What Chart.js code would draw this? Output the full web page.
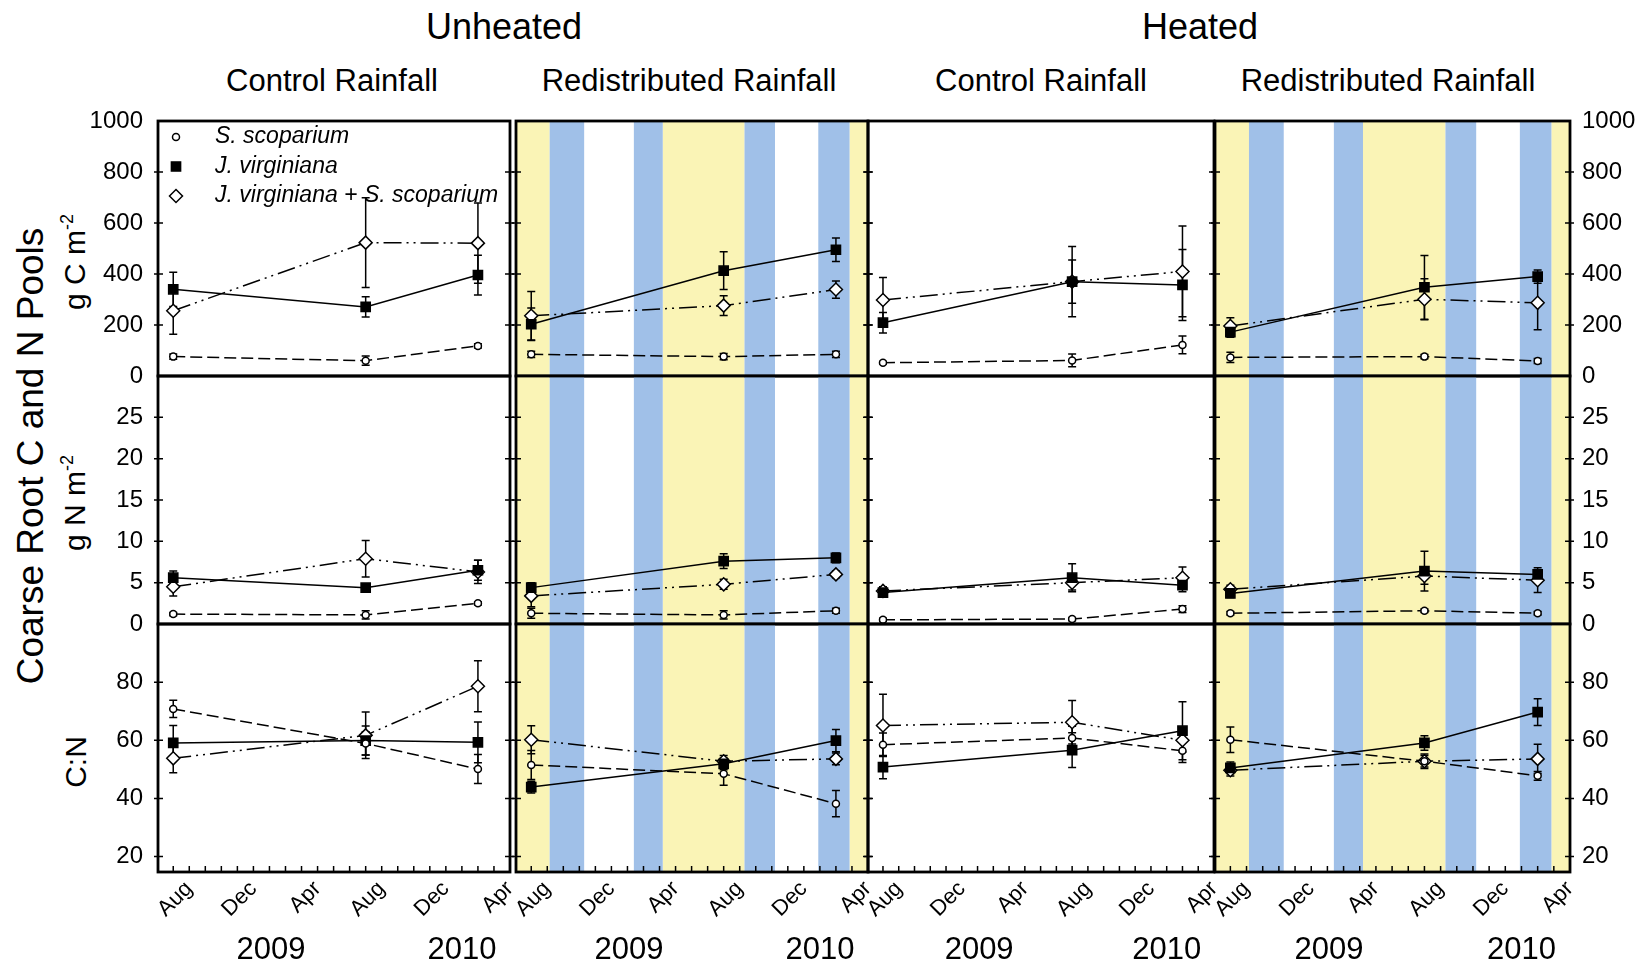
<!DOCTYPE html>
<html>
<head>
<meta charset="utf-8">
<script src="https://cdn.jsdelivr.net/npm/chart.js@4.4.1/dist/chart.umd.min.js"></script>
<style>
body { margin: 0; background: #fff; }
#wrap { position: relative; width: 1644px; height: 965px; font-family: 'Liberation Sans', Arial, sans-serif; color: #000; overflow: hidden; }
#wrap canvas { position: absolute; left: 0; top: 0; }
.lbl { position: absolute; white-space: nowrap; transform: translate(-50%, -50%); line-height: 1; }
.rot { transform: translate(-50%, -50%) rotate(-90deg); }
sup { font-size: 60%; vertical-align: 0.7em; }
</style>
</head>
<body>
<div id="wrap">
  <div class="lbl" style="left:504px;top:27px;font-size:36px">Unheated</div>
  <div class="lbl" style="left:1200px;top:27px;font-size:36px">Heated</div>
  <div class="lbl" style="left:332px;top:80px;font-size:31px">Control Rainfall</div>
  <div class="lbl" style="left:689px;top:80px;font-size:31px">Redistributed Rainfall</div>
  <div class="lbl" style="left:1041px;top:80px;font-size:31px">Control Rainfall</div>
  <div class="lbl" style="left:1388px;top:80px;font-size:31px">Redistributed Rainfall</div>
  <div class="lbl rot" style="left:30px;top:456px;font-size:37px">Coarse Root C and N Pools</div>
  <div class="lbl rot" style="left:74px;top:262px;font-size:30px">g C m<sup>-2</sup></div>
  <div class="lbl rot" style="left:74px;top:503px;font-size:30px">g N m<sup>-2</sup></div>
  <div class="lbl rot" style="left:76px;top:762px;font-size:30px">C:N</div>
</div>
<script>
// months counted from Aug 2008
const sampleMonths = [0, 12, 19];
const tickMonths = [0, 4, 8, 12, 16, 20];
const tickNames = ['Aug', 'Dec', 'Apr', 'Aug', 'Dec', 'Apr'];
const yearNames = ['2009', '2010'];
const yearMonths = [6.1, 18];
const summerBands = [[-0.95, 1.15], [8.2, 13.3], [19.85, 21]];
const rainBands = [[1.15, 3.3], [6.4, 8.2], [13.3, 15.2], [17.9, 19.85]];

const seriesNames = ['S. scoparium', 'J. virginiana', 'J. virginiana + S. scoparium'];

// one inner array per panel: unheated control, unheated redistributed, heated control, heated redistributed
const cScop = [[76, 60, 118], [85, 76, 85], [52, 61, 122], [73, 76, 59]];
const cScopErr = [[10, 18, 8], [12, 12, 12], [5, 25, 35], [20, 8, 10]];
const cVirg = [[340, 271, 396], [203, 413, 495], [209, 370, 357], [172, 348, 390]];
const cVirgErr = [[67, 40, 78], [64, 74, 46], [40, 85, 139], [20, 125, 26]];
const cMix = [[256, 523, 521], [236, 276, 339], [298, 370, 410], [196, 301, 287]];
const cMixErr = [[92, 176, 157], [95, 39, 34], [88, 138, 178], [32, 80, 106]];

const nScop = [[1.2, 1.1, 2.5], [1.3, 1.1, 1.6], [0.5, 0.6, 1.8], [1.3, 1.6, 1.3]];
const nScopErr = [[0.2, 0.5, 0.2], [0.6, 0.5, 0.3], [0.2, 0.2, 0.4], [0.2, 0.2, 0.2]];
const nVirg = [[5.6, 4.4, 6.5], [4.4, 7.6, 8.0], [3.8, 5.6, 4.7], [3.7, 6.4, 6.0]];
const nVirgErr = [[0.8, 0.2, 1.2], [0.6, 0.9, 0.6], [0.5, 1.7, 0.8], [0.5, 2.4, 0.4]];
const nMix = [[4.5, 7.9, 6.3], [3.4, 4.8, 6.0], [4.0, 5.0, 5.6], [4.2, 5.8, 5.3]];
const nMixErr = [[1.1, 2.2, 1.4], [1.3, 0.6, 0.4], [0.5, 0.9, 1.3], [0.5, 1.0, 1.5]];

const cnScop = [[70.8, 58.9, 50.1], [51.5, 48.5, 38.2], [58.5, 60.8, 56.4], [60.2, 52.8, 47.8]];
const cnScopErr = [[3, 4, 5], [5, 4, 4.5], [4, 4, 4], [4.4, 2, 1.5]];
const cnVirg = [[59.1, 59.9, 59.3], [43.9, 51.9, 59.9], [50.8, 56.6, 63.3], [50.5, 59.1, 69.7]];
const cnVirgErr = [[6, 5, 7], [2, 2, 3.8], [4, 6, 10], [2, 2.5, 4.6]];
const cnMix = [[53.8, 61.7, 78.6], [60.2, 52.8, 53.6], [65.1, 66.2, 60], [49.7, 52.8, 53.6]];
const cnMixErr = [[5, 8, 8.8], [4.8, 2, 2], [10.7, 7.5, 4], [2, 2.5, 5]];

const rowTicks = [[0, 200, 400, 600, 800, 1000], [0, 5, 10, 15, 20, 25], [20, 40, 60, 80]];
const rowMin = [0, 0, 14.7];
const rowMax = [1000, 30, 100];

const rowValues = [[cScop, cVirg, cMix], [nScop, nVirg, nMix], [cnScop, cnVirg, cnMix]];
const rowErrors = [[cScopErr, cVirgErr, cMixErr], [nScopErr, nVirgErr, nMixErr], [cnScopErr, cnVirgErr, cnMixErr]];

// layout
const W = 1644, H = 965;
const colLeft = [158, 516, 868, 1215];
const colRight = [510, 868, 1214, 1570];
const rowTop = [121, 376, 624];
const rowBottom = [376, 624, 872];
const redistributed = [false, true, false, true];
const FONT = "'Liberation Sans', Arial, sans-serif";
const YELLOW = 'rgb(250,244,182)';
const BLUE = 'rgb(160,192,232)';

const styles = [
    {borderDash: [12, 5], pointStyle: 'circle', pointRadius: 3.5, pointBackgroundColor: '#fff'},
    {borderDash: [], pointStyle: 'rect', pointRadius: 6.5, pointBackgroundColor: '#000'},
    {borderDash: [18, 5, 2, 5, 2, 5], pointStyle: 'rectRot', pointRadius: 6.5, pointBackgroundColor: '#fff'}
];

function drawMarker(ctx, style, x, y) {
    ctx.save();
    ctx.setLineDash([]);
    ctx.lineWidth = 1.5;
    ctx.strokeStyle = '#000';
    ctx.fillStyle = style.pointBackgroundColor;
    ctx.beginPath();
    const r = style.pointRadius;
    if (style.pointStyle === 'circle') {
        ctx.arc(x, y, r, 0, Math.PI * 2);
    } else if (style.pointStyle === 'rect') {
        const s = r * Math.SQRT1_2;
        ctx.rect(x - s, y - s, 2 * s, 2 * s);
    } else {
        ctx.moveTo(x, y - r); ctx.lineTo(x + r, y); ctx.lineTo(x, y + r); ctx.lineTo(x - r, y); ctx.closePath();
    }
    ctx.fill();
    ctx.stroke();
    ctx.restore();
}

function panelPlugin(r, c) {
    return {
        id: 'panel',
        beforeDatasetsDraw(chart) {
            const ctx = chart.ctx, a = chart.chartArea;
            const xs = chart.scales.x, ys = chart.scales.y;
            ctx.save();
            if (redistributed[c]) {
                const fillBand = (b, col) => {
                    const x0 = Math.max(a.left, xs.getPixelForValue(b[0]));
                    const x1 = Math.min(a.right, xs.getPixelForValue(b[1]));
                    ctx.fillStyle = col;
                    ctx.fillRect(x0, a.top, x1 - x0, a.bottom - a.top);
                };
                summerBands.forEach(b => fillBand(b, YELLOW));
                rainBands.forEach(b => fillBand(b, BLUE));
            }
            // error bars
            ctx.strokeStyle = '#000';
            ctx.lineWidth = 1.5;
            ctx.setLineDash([]);
            chart.data.datasets.forEach(ds => {
                ds.data.forEach((p, k) => {
                    const e = ds.err[k];
                    const x = xs.getPixelForValue(p.x);
                    const y0 = ys.getPixelForValue(p.y + e);
                    const y1 = ys.getPixelForValue(p.y - e);
                    ctx.beginPath();
                    ctx.moveTo(x, y0); ctx.lineTo(x, y1);
                    ctx.moveTo(x - 4, y0); ctx.lineTo(x + 4, y0);
                    ctx.moveTo(x - 4, y1); ctx.lineTo(x + 4, y1);
                    ctx.stroke();
                });
            });
            ctx.restore();
        },
        afterDraw(chart) {
            const ctx = chart.ctx, a = chart.chartArea;
            const xs = chart.scales.x, ys = chart.scales.y;
            ctx.save();
            ctx.strokeStyle = '#000';
            ctx.setLineDash([]);
            // y tick marks on both edges
            ctx.lineWidth = 1.5;
            ctx.beginPath();
            rowTicks[r].forEach(v => {
                if (v <= rowMin[r] || v >= rowMax[r]) return;
                const y = ys.getPixelForValue(v);
                ctx.moveTo(a.left - 4, y); ctx.lineTo(a.left + 5, y);
                ctx.moveTo(a.right - 5, y); ctx.lineTo(a.right + 4, y);
            });
            if (r === 2) {
                for (let m = 0; m <= 20; m++) {
                    const x = xs.getPixelForValue(m);
                    ctx.moveTo(x, a.bottom); ctx.lineTo(x, a.bottom - 6);
                }
            }
            ctx.stroke();
            // frame
            ctx.lineWidth = 2.8;
            ctx.strokeRect(a.left, a.top, a.right - a.left, a.bottom - a.top);
            // years
            if (r === 2) {
                ctx.fillStyle = '#000';
                ctx.font = '31px ' + FONT;
                ctx.textAlign = 'center';
                ctx.textBaseline = 'middle';
                yearNames.forEach((t, i) => ctx.fillText(t, xs.getPixelForValue(yearMonths[i]), 950));
            }
            // legend inside the first panel
            if (r === 0 && c === 0) {
                ctx.font = 'italic 23px ' + FONT;
                ctx.textAlign = 'left';
                ctx.textBaseline = 'middle';
                seriesNames.forEach((name, i) => {
                    const y = a.top + 16 + i * 29.5;
                    drawMarker(ctx, styles[i], a.left + 18, y);
                    ctx.fillStyle = '#000';
                    ctx.fillText(name, a.left + 57, y);
                });
            }
            ctx.restore();
        }
    };
}

const wrap = document.getElementById('wrap');

function makeChart(r, c) {
    const canvas = document.createElement('canvas');
    canvas.width = W;
    canvas.height = H;
    wrap.appendChild(canvas);
    const showLeft = c === 0, showRight = c === 3, showX = r === 2;
    const datasets = styles.map((st, i) => Object.assign({
        label: seriesNames[i],
        data: sampleMonths.map((m, k) => ({x: m, y: rowValues[r][i][c][k]})),
        err: rowErrors[r][i][c],
        borderColor: '#000',
        borderWidth: 1.5,
        pointBorderColor: '#000',
        pointBorderWidth: 1.5,
        fill: false,
        tension: 0
    }, st));
    return new Chart(canvas, {
        type: 'line',
        data: {datasets},
        plugins: [panelPlugin(r, c)],
        options: {
            responsive: false,
            animation: false,
            devicePixelRatio: 1,
            events: [],
            layout: {
                padding: {
                    left: showLeft ? 0 : colLeft[c],
                    right: showRight ? 0 : W - colRight[c],
                    top: rowTop[r],
                    bottom: showX ? H - rowBottom[r] - 60 : H - rowBottom[r]
                }
            },
            plugins: {legend: {display: false}, tooltip: {enabled: false}},
            scales: {
                x: {
                    type: 'linear', min: -0.95, max: 21,
                    display: showX,
                    grid: {display: false, drawTicks: false},
                    border: {display: false},
                    afterBuildTicks: s => { s.ticks = tickMonths.map(v => ({value: v})); },
                    afterFit: s => { s.height = showX ? 60 : 0; },
                    ticks: {
                        autoSkip: false, minRotation: 45, maxRotation: 45,
                        padding: 4, labelOffset: 16, color: '#000',
                        font: {size: 22, family: FONT},
                        callback: v => tickNames[tickMonths.indexOf(v)]
                    }
                },
                y: {
                    type: 'linear', min: rowMin[r], max: rowMax[r],
                    position: showRight ? 'right' : 'left',
                    display: showLeft || showRight,
                    grid: {display: false, drawTicks: false},
                    border: {display: false},
                    afterBuildTicks: s => { s.ticks = rowTicks[r].map(v => ({value: v})); },
                    afterFit: s => { s.width = showRight ? 74 : (showLeft ? 158 : 0); },
                    ticks: {
                        padding: showRight ? 12 : 15, color: '#000',
                        font: {size: 24, family: FONT},
                        callback: v => String(v)
                    }
                }
            }
        }
    });
}

for (let r = 0; r < 3; r++) {
    for (let c = 0; c < 4; c++) makeChart(r, c);
}
</script>
</body>
</html>
